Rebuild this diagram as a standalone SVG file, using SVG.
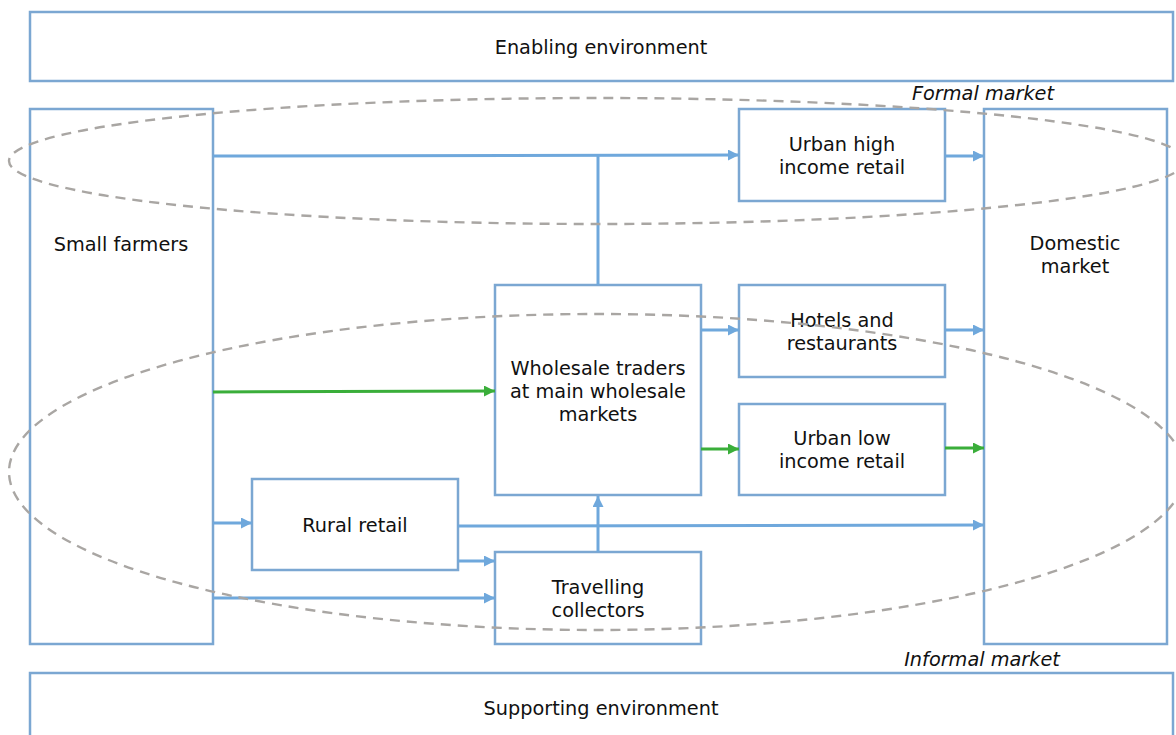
<svg xmlns="http://www.w3.org/2000/svg" width="1176" height="735" viewBox="0 0 1176 735">
<defs>
<style>
.box{fill:#fff;stroke:#7BA7D2;stroke-width:2.5}
.t{font-family:"DejaVu Sans",Verdana,sans-serif;font-size:19.3px;fill:#111;text-anchor:middle}
.it{font-family:"DejaVu Sans",Verdana,sans-serif;font-size:19.3px;font-style:italic;fill:#111;text-anchor:middle}
.b{stroke:#6FA8DC;stroke-width:3;fill:none}
.g{stroke:#3AAE3A;stroke-width:3;fill:none}
.ell{fill:none;stroke:#A9A6A3;stroke-width:2.4;stroke-dasharray:10,7}
</style>
<marker id="ab" viewBox="0 0 10 10" refX="10" refY="5" markerWidth="11" markerHeight="11" markerUnits="userSpaceOnUse" orient="auto"><path d="M0,0 L10,5 L0,10 z" fill="#6FA8DC"/></marker>
<marker id="ag" viewBox="0 0 10 10" refX="10" refY="5" markerWidth="11" markerHeight="11" markerUnits="userSpaceOnUse" orient="auto"><path d="M0,0 L10,5 L0,10 z" fill="#3AAE3A"/></marker>
</defs>
<rect width="1176" height="735" fill="#fff"/>
<g id="enabling"><rect class="box" x="30" y="12" width="1143" height="69"/><text class="t" x="601" y="54">Enabling environment</text></g>
<g id="supporting"><rect class="box" x="30" y="673" width="1143" height="80"/><text class="t" x="601" y="715">Supporting environment</text></g>
<g id="small-farmers"><rect class="box" x="30" y="109" width="183" height="535"/><text class="t" x="121" y="251">Small farmers</text></g>
<g id="domestic"><rect class="box" x="984" y="109" width="183" height="535"/><text class="t" x="1075" y="250">Domestic</text><text class="t" x="1075" y="273">market</text></g>
<g id="urban-high"><rect class="box" x="739" y="109" width="206" height="92"/><text class="t" x="842" y="151">Urban high</text><text class="t" x="842" y="174">income retail</text></g>
<g id="hotels"><rect class="box" x="739" y="285" width="206" height="92"/><text class="t" x="842" y="327">Hotels and</text><text class="t" x="842" y="350">restaurants</text></g>
<g id="urban-low"><rect class="box" x="739" y="404" width="206" height="91"/><text class="t" x="842" y="445">Urban low</text><text class="t" x="842" y="468">income retail</text></g>
<g id="wholesale"><rect class="box" x="495" y="285" width="206" height="210"/><text class="t" x="598" y="375">Wholesale traders</text><text class="t" x="598" y="398">at main wholesale</text><text class="t" x="598" y="421">markets</text></g>
<g id="rural-retail"><rect class="box" x="252" y="479" width="206" height="91"/><text class="t" x="355" y="532">Rural retail</text></g>
<g id="travelling"><rect class="box" x="495" y="552" width="206" height="92"/><text class="t" x="598" y="594">Travelling</text><text class="t" x="598" y="617">collectors</text></g>
<g id="connectors">
<path class="b" d="M213,156 L739,155" marker-end="url(#ab)"/>
<path class="b" d="M598,285 L598,156"/>
<path class="b" d="M945,156 L984,156" marker-end="url(#ab)"/>
<path class="b" d="M701,330 L739,330" marker-end="url(#ab)"/>
<path class="b" d="M945,330 L984,330" marker-end="url(#ab)"/>
<path class="g" d="M213,392 L495,391" marker-end="url(#ag)"/>
<path class="g" d="M701,449 L739,449" marker-end="url(#ag)"/>
<path class="g" d="M945,448 L984,448" marker-end="url(#ag)"/>
<path class="b" d="M213,523 L252,523" marker-end="url(#ab)"/>
<path class="b" d="M458,526 L984,525" marker-end="url(#ab)"/>
<path class="b" d="M458,561 L495,561" marker-end="url(#ab)"/>
<path class="b" d="M213,598 L495,598" marker-end="url(#ab)"/>
<path class="b" d="M598,552 L598,496" marker-end="url(#ab)"/>
</g>
<g id="markets">
<ellipse class="ell" cx="597" cy="161" rx="588" ry="63"/>
<ellipse class="ell" cx="597" cy="472" rx="588" ry="158"/>
<text class="it" x="983" y="100">Formal market</text>
<text class="it" x="982" y="666">Informal market</text>
</g>
</svg>
